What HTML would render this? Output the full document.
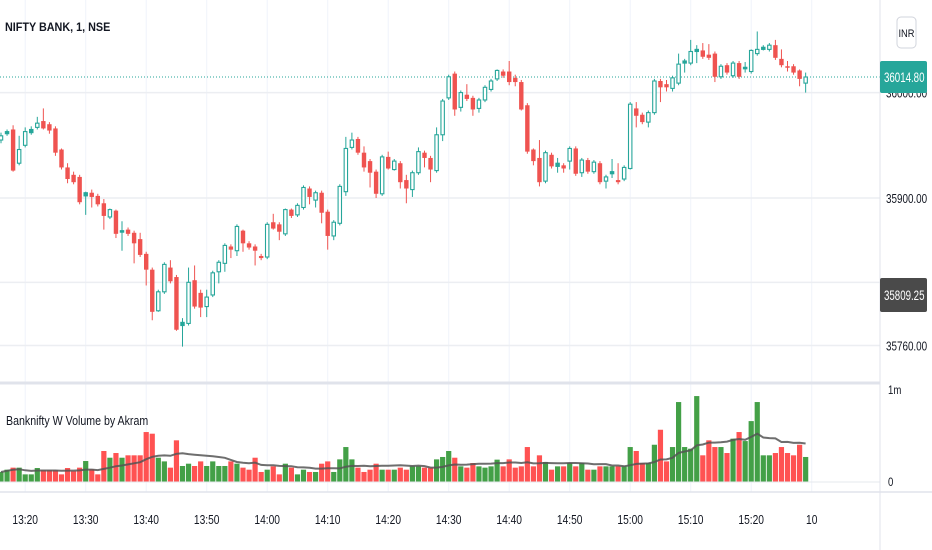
<!DOCTYPE html>
<html><head><meta charset="utf-8">
<style>
html,body{margin:0;padding:0;background:#fff;}
body{width:932px;height:550px;overflow:hidden;font-family:"Liberation Sans",sans-serif;}
svg{display:block;}
text{font-family:"Liberation Sans",sans-serif;}
</style></head>
<body>
<svg id="chart" width="932" height="550" viewBox="0 0 932 550" xmlns="http://www.w3.org/2000/svg">
  <rect x="0" y="0" width="932" height="550" fill="#ffffff"/>
  <g id="grid"></g>
  <g id="candles"></g>
  <g id="volume"></g>
  <line x1="0" y1="383" x2="880" y2="383" stroke="#e0e3eb" stroke-width="3"/>
  <line x1="0" y1="482" x2="880" y2="482" stroke="#e6e8ee" stroke-width="1"/>
  <line x1="0" y1="492" x2="932" y2="492" stroke="#e0e3eb" stroke-width="1.5"/>
  <line x1="880" y1="0" x2="880" y2="550" stroke="#e0e3eb" stroke-width="1"/>
  <g id="axes"></g>
  <text x="5" y="31" font-size="12" fill="#131722" font-weight="bold" transform="translate(5,0) scale(0.9,1) translate(-5,0)">NIFTY BANK, 1, NSE</text>
  <text x="6" y="425" font-size="12.5" fill="#131722" transform="translate(6,0) scale(0.85,1) translate(-6,0)">Banknifty W Volume by Akram</text>
  <g>
    <rect x="897" y="17" width="19" height="31" rx="4" fill="#fff" stroke="#d1d4dc"/>
    <text x="906.5" y="37" font-size="11" fill="#131722" text-anchor="middle" transform="translate(906.5,0) scale(0.85,1) translate(-906.5,0)">INR</text>
  </g>
</svg>
<script>
const opens  = [35955,35961,35965,35933,35950,35962,35967,35973,35970,35966,35946,35929,35922,35920,35902,35905,35902,35895,35882,35888,35868,35870,35867,35861,35847,35832,35793,35811,35834,35825,35779,35781,35822,35810,35797,35808,35830,35838,35854,35850,35869,35857,35854,35845,35844,35877,35875,35866,35889,35884,35891,35909,35898,35905,35887,35864,35876,35906,35948,35956,35943,35935,35925,35904,35939,35927,35933,35917,35908,35924,35943,35938,35926,35960,35995,36018,35986,35998,35995,35985,35993,36003,36013,36020,36020,36014,36010,35988,35946,35938,35916,35941,35930,35931,35935,35947,35924,35936,35925,35933,35916,35923,35917,35918,35928,35985,35979,35972,35981,36011,36008,36004,36009,36028,36028,36039,36040,36036,36037,36015,36026,36016,36028,36023,36020,36037,36041,36041,36045,36032,36025,36025,36021,36009];
const highs  = [35962,35965,35969,35959,35967,35968,35977,35985,35972,35968,35947,35933,35925,35922,35906,35908,35904,35899,35890,35889,35878,35872,35869,35867,35849,35834,35813,35839,35841,35827,35786,35834,35836,35813,35813,35831,35841,35857,35856,35875,35870,35859,35856,35847,35877,35885,35877,35890,35890,35895,35912,35911,35907,35907,35889,35879,35913,35958,35962,35958,35949,35937,35927,35941,35944,35937,35935,35922,35926,35948,35945,35940,35967,35994,36017,36020,36002,36008,35997,35995,36007,36013,36022,36022,36030,36017,36012,35990,35947,35955,35945,35943,35938,35933,35949,35949,35938,35938,35936,35935,35922,35937,35933,35931,35991,35991,35981,35983,36013,36013,36012,36016,36037,36032,36050,36045,36047,36046,36039,36027,36028,36030,36030,36029,36041,36058,36045,36047,36050,36041,36030,36027,36022,36019];
const lows   = [35952,35959,35925,35931,35948,35960,35965,35965,35961,35940,35927,35914,35913,35894,35884,35891,35892,35870,35880,35862,35850,35864,35838,35844,35817,35784,35792,35809,35819,35774,35759,35779,35795,35787,35787,35806,35819,35830,35843,35845,35849,35851,35836,35841,35842,35870,35860,35864,35881,35882,35889,35894,35891,35876,35851,35860,35874,35902,35946,35941,35925,35910,35900,35902,35927,35926,35909,35895,35901,35922,35929,35915,35924,35954,35993,35978,35982,35992,35978,35981,35991,36001,36011,36014,36007,36006,35983,35942,35931,35911,35914,35928,35924,35924,35927,35921,35920,35923,35923,35913,35909,35919,35913,35916,35927,35967,35970,35967,35979,35991,36001,36001,36007,36019,36026,36028,36032,36031,36010,36013,36017,36014,36013,36019,36018,36035,36040,36039,36031,36024,36020,36017,36006,36000];
const closes = [35959,35963,35926,35946,35963,35965,35971,35966,35964,35943,35929,35918,35915,35896,35905,35901,35894,35883,35889,35866,35869,35866,35857,35846,35832,35792,35811,35837,35821,35775,35782,35820,35797,35796,35806,35829,35839,35855,35851,35873,35857,35853,35850,35843,35875,35871,35868,35889,35883,35893,35910,35901,35905,35886,35864,35877,35911,35947,35955,35943,35929,35924,35904,35939,35928,35935,35915,35909,35924,35944,35938,35927,35960,35992,36015,35984,36000,35994,35984,35993,36005,36011,36021,36016,36010,36010,35984,35944,35935,35915,35943,35930,35933,35928,35947,35923,35936,35925,35934,35915,35920,35925,35915,35929,35989,35978,35972,35981,36011,36005,36005,36014,36027,36030,36039,36041,36034,36033,36015,36025,36019,36028,36015,36024,36040,36041,36043,36045,36033,36026,36024,36019,36013,36014.8];
const volumesK = [109,134,156,156,83,83,152,127,127,127,83,152,116,156,228,138,83,337,264,315,264,290,290,290,543,525,264,224,156,453,174,199,174,224,174,224,174,174,224,199,156,134,264,109,134,170,83,199,156,83,134,109,109,199,224,109,246,380,246,156,109,134,199,134,134,134,156,134,170,170,156,156,246,272,337,264,170,156,206,170,156,170,243,170,246,156,170,380,170,290,217,134,170,170,206,170,206,134,134,170,170,170,170,170,380,337,206,206,405,568,224,380,869,380,362,934,290,453,380,380,315,471,543,445,662,869,290,290,315,380,315,290,405,272];
const timeLabels = ["13:20","13:30","13:40","13:50","14:00","14:10","14:20","14:30","14:40","14:50","15:00","15:10","15:20","10"];
const timeLabelIndex = [4,14,24,34,44,54,64,74,84,94,104,114,124,134];
const priceGridLevels = [36000,35900,35820,35760];
const priceAxisLabels = ["36000.00","35900.00","35830.00","35760.00"];
const lastPrice = 36014.80;
const markPrice = 35809.25;
const volumeTicks = ["1m","0"];
const volumeTickValues = [1000,0];

const NS="http://www.w3.org/2000/svg";
function xS(i){return 1+6.05*i;}
function yP(p){return 198-(p-35900)*1.054;}
function yV(v){return 482-v*0.092;}
function mk(tag,attrs,parent){const e=document.createElementNS(NS,tag);for(const k in attrs)e.setAttribute(k,attrs[k]);parent.appendChild(e);return e;}

const grid=document.getElementById('grid');
const axes=document.getElementById('axes');
const cg=document.getElementById('candles');
const vg=document.getElementById('volume');

timeLabelIndex.forEach((idx,k)=>{
  const x=xS(idx);
  const l=mk('line',{x1:x,y1:0,x2:x,y2:492,stroke:'#f0f3fa','stroke-width':1},grid);
  
  
  const t=mk('text',{x:x,y:524,'font-size':12.5,fill:'#131722','text-anchor':'middle',transform:`translate(${x},0) scale(0.82,1) translate(${-x},0)`},axes);
  t.textContent=timeLabels[k];
  
  
});
priceGridLevels.forEach((p,k)=>{
  const y=yP(p);
  const l=mk('line',{x1:0,y1:y,x2:880,y2:y,stroke:'#eceef2','stroke-width':1.5},grid);
  
  
  const t=mk('text',{x:886,y:y+5,'font-size':13,fill:'#131722',transform:`translate(886,0) scale(0.76,1) translate(-886,0)`},axes);
  t.textContent=priceAxisLabels[k];
  
  
});
volumeTickValues.forEach((v,k)=>{
  const y=yV(v);
  const t=mk('text',{x:888,y:y+4,'font-size':12,fill:'#131722',transform:`translate(888,0) scale(0.8,1) translate(-888,0)`},axes);
  t.textContent=volumeTicks[k];
  
  
});

const lp=mk('line',{x1:0,y1:yP(lastPrice),x2:880,y2:yP(lastPrice),stroke:'#26a69a','stroke-width':1,'stroke-dasharray':'1,2'},cg);



for(let i=0;i<opens.length;i++){
  const up=closes[i]>=opens[i];
  const col=up?'#26a69a':'#ef5350';
  const x=xS(i);
  const w=mk('line',{x1:x,y1:yP(highs[i]),x2:x,y2:yP(lows[i]),stroke:col,'stroke-width':1},cg);
  
  
  const top=yP(Math.max(opens[i],closes[i])), bot=yP(Math.min(opens[i],closes[i]));
  let b;
  if(up){
    const h=Math.max(bot-top,1.5);
    b=mk('rect',{x:x-1.7,y:top,width:3.4,height:h,fill:h<4?col:'#ffffff',stroke:col,'stroke-width':1.1},cg);
  } else {
    b=mk('rect',{x:x-2.2,y:top,width:4.4,height:Math.max(bot-top,1.5),fill:col},cg);
  }
  
  
}

for(let i=0;i<volumesK.length;i++){
  const up=closes[i]>=opens[i];
  const x=xS(i);
  const y=yV(volumesK[i]);
  const r=mk('rect',{x:x-2.6,y:y,width:5.2,height:482-y,fill:up?'#43a047':'#ff5252'},vg);
  
  
}
const N=14;let pts=[];
for(let i=0;i<volumesK.length;i++){
  let s=0,c=0;for(let j=Math.max(0,i-N+1);j<=i;j++){s+=volumesK[j];c++;}
  pts.push(xS(i).toFixed(1)+','+yV(s/c).toFixed(1));
}
const ma=mk('polyline',{points:pts.join(' '),fill:'none',stroke:'#555555','stroke-width':2,opacity:0.85},vg);



const g1=mk('rect',{x:880,y:61,width:47,height:32,rx:2,fill:'#26a69a'},axes);


const g1t=mk('text',{x:884,y:82,'font-size':13.5,fill:'#ffffff',transform:'translate(884,0) scale(0.72,1) translate(-884,0)'},axes);
g1t.textContent=lastPrice.toFixed(2);


const g2=mk('rect',{x:880,y:278,width:47,height:34,rx:2,fill:'#4a4a4a'},axes);


const g2t=mk('text',{x:884,y:300,'font-size':13.5,fill:'#ffffff',transform:'translate(884,0) scale(0.72,1) translate(-884,0)'},axes);
g2t.textContent=markPrice.toFixed(2);


</script>
</body></html>
